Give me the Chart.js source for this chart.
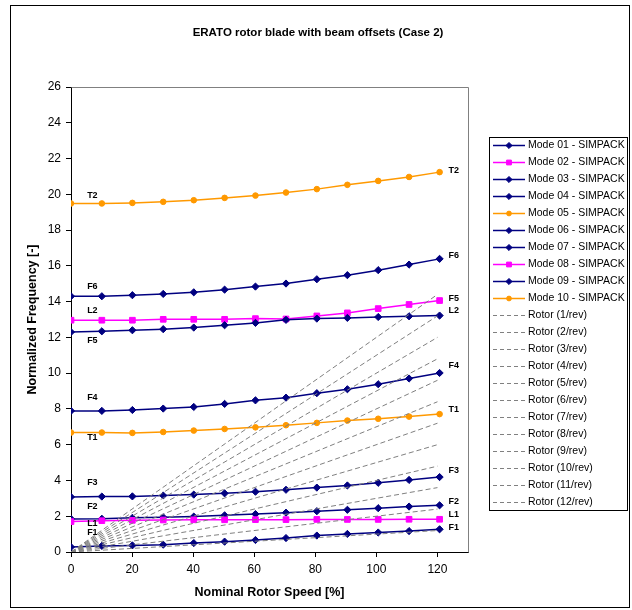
<!DOCTYPE html>
<html>
<head>
<meta charset="utf-8">
<script src="https://cdn.jsdelivr.net/npm/chart.js@4.4.0/dist/chart.umd.min.js"></script>
<style>
  html, body { margin: 0; padding: 0; background: #fff; }
  #wrap { width: 632px; height: 610px; }
</style>
</head>
<body>
<div id="wrap"><canvas id="chart" width="632" height="610"></canvas></div>
<script>
// rotor speed [%] of the SIMPACK points
const speeds = [0, 10.1, 20.1, 30.2, 40.2, 50.3, 60.4, 70.4, 80.5, 90.5, 100.6, 110.7, 120.7];

// normalized frequencies per mode
const mode01 = [0.28, 0.34, 0.37, 0.41, 0.50, 0.58, 0.67, 0.78, 0.92, 1.01, 1.09, 1.17, 1.27];
const mode02 = [1.70, 1.75, 1.77, 1.79, 1.80, 1.80, 1.81, 1.81, 1.82, 1.82, 1.82, 1.83, 1.83];
const mode03 = [1.85, 1.86, 1.91, 1.94, 1.98, 2.05, 2.12, 2.20, 2.28, 2.36, 2.45, 2.54, 2.61];
const mode04 = [3.08, 3.10, 3.11, 3.16, 3.21, 3.28, 3.37, 3.48, 3.60, 3.72, 3.87, 4.03, 4.19];
const mode05 = [6.68, 6.68, 6.66, 6.71, 6.79, 6.88, 6.97, 7.09, 7.22, 7.35, 7.45, 7.57, 7.71];
const mode06 = [7.89, 7.89, 7.94, 8.02, 8.11, 8.28, 8.48, 8.63, 8.88, 9.10, 9.38, 9.70, 10.01];
const mode07 = [12.30, 12.34, 12.40, 12.46, 12.55, 12.68, 12.81, 12.98, 13.05, 13.09, 13.14, 13.18, 13.22];
const mode08 = [12.96, 12.96, 12.96, 13.01, 13.01, 13.01, 13.05, 13.03, 13.20, 13.37, 13.61, 13.84, 14.06];
const mode09 = [14.30, 14.30, 14.36, 14.43, 14.52, 14.67, 14.84, 15.01, 15.25, 15.48, 15.76, 16.07, 16.39];
const mode10 = [19.49, 19.49, 19.52, 19.58, 19.67, 19.80, 19.93, 20.10, 20.29, 20.53, 20.75, 20.97, 21.24];

// n/rev lines: start at 0, end values at 120 %
const rotorStart = [0, 120];
const rotorEnd = [1.2, 2.4, 3.6, 4.8, 6.0, 7.2, 8.4, 9.6, 10.8, 12.0, 13.2, 14.4];

// axis ticks
const xTicks = [0, 20, 40, 60, 80, 100, 120];

// mode labels written next to the curves (data units)
const labelText = ['T2', 'F6', 'L2', 'F5', 'F4', 'T1', 'F3', 'F2', 'L1', 'F1',
                   'T2', 'F6', 'F5', 'L2', 'F4', 'T1', 'F3', 'F2', 'L1', 'F1'];
const labelX = [7, 7, 7, 7, 7, 7, 7, 7, 7, 7,
                125.3, 125.3, 125.3, 125.3, 125.3, 125.3, 125.3, 125.3, 125.3, 125.3];
const labelY = [19.91, 14.83, 13.51, 11.84, 8.61, 6.40, 3.89, 2.55, 1.61, 1.07,
                21.35, 16.60, 14.20, 13.51, 10.40, 7.96, 4.53, 2.83, 2.11, 1.39];

const NAVY = '#000080', PINK = '#FF00FF', ORANGE = '#FF9900';
const FONT = "'Liberation Sans', Arial, sans-serif";

const modes = [mode01, mode02, mode03, mode04, mode05, mode06, mode07, mode08, mode09, mode10];
const modeColor = [NAVY, PINK, NAVY, NAVY, ORANGE, NAVY, NAVY, PINK, NAVY, ORANGE];
const modeMarker = ['rectRot', 'rect', 'rectRot', 'rectRot', 'circle', 'rectRot', 'rectRot', 'rect', 'rectRot', 'circle'];

const datasets = [];
modes.forEach((vals, i) => {
    const mk = modeMarker[i];
    datasets.push({
        label: 'Mode ' + String(i + 1).padStart(2, '0') + ' - SIMPACK',
        data: speeds.map((x, j) => ({ x, y: vals[j] })),
        showLine: true,
        borderColor: modeColor[i],
        backgroundColor: modeColor[i],
        borderWidth: 1.5,
        pointStyle: mk,
        pointRadius: mk === 'rect' ? 4 : (mk === 'circle' ? 2.8 : 3.6),
        pointBorderWidth: 1,
        order: 2
    });
});
rotorEnd.forEach((v, k) => {
    datasets.push({
        label: 'Rotor (' + (k + 1) + '/rev)',
        data: [{ x: rotorStart[0], y: 0 }, { x: rotorStart[1], y: v }],
        showLine: true,
        borderColor: '#808080',
        backgroundColor: '#808080',
        borderWidth: 1,
        borderDash: [5, 3],
        pointRadius: 0,
        order: 1
    });
});

const framePlugin = {
    id: 'frame',
    beforeDraw(chart) {
        const ctx = chart.ctx;
        ctx.save();
        ctx.fillStyle = '#fff';
        ctx.fillRect(0, 0, chart.width, chart.height);
        ctx.strokeStyle = '#000';
        ctx.lineWidth = 1;
        ctx.strokeRect(10.5, 5.5, 619, 602);
        ctx.fillStyle = '#000';
        ctx.font = 'bold 11.5px ' + FONT;
        ctx.textAlign = 'center';
        ctx.textBaseline = 'middle';
        ctx.fillText('ERATO rotor blade with beam offsets (Case 2)', 318, 33);
        ctx.restore();
    },
    beforeDatasetsDraw(chart) {
        const { ctx, chartArea: a } = chart;
        ctx.save();
        ctx.strokeStyle = '#808080';
        ctx.lineWidth = 1;
        ctx.beginPath();
        ctx.moveTo(Math.round(a.left) + 0.5, Math.round(a.top) + 0.5);
        ctx.lineTo(Math.round(a.right) + 0.5, Math.round(a.top) + 0.5);
        ctx.lineTo(Math.round(a.right) + 0.5, Math.round(a.bottom) + 0.5);
        ctx.stroke();
        ctx.restore();
    }
};

const curveLabels = {
    id: 'curveLabels',
    afterDatasetsDraw(chart) {
        const { ctx, scales } = chart;
        ctx.save();
        ctx.fillStyle = '#000';
        ctx.font = 'bold 9px ' + FONT;
        ctx.textAlign = 'center';
        ctx.textBaseline = 'middle';
        labelText.forEach((t, i) => {
            ctx.fillText(t, scales.x.getPixelForValue(labelX[i]), scales.y.getPixelForValue(labelY[i]));
        });
        ctx.restore();
    }
};

const boxLegend = {
    id: 'boxLegend',
    afterDraw(chart) {
        const ctx = chart.ctx;
        const left = 489, top = 137, w = 138, h = 373, row = 17, first = 145;
        ctx.save();
        ctx.strokeStyle = '#000';
        ctx.lineWidth = 1;
        ctx.strokeRect(left + 0.5, top + 0.5, w, h);
        ctx.font = '10.5px ' + FONT;
        ctx.textBaseline = 'middle';
        ctx.textAlign = 'left';
        chart.data.datasets.forEach((ds, i) => {
            const y = Math.round(first + i * row) + 0.5;
            ctx.strokeStyle = ds.borderColor;
            ctx.lineWidth = ds.pointRadius > 0 ? 1.5 : 1;
            ctx.setLineDash(ds.pointRadius > 0 ? [] : [4, 3]);
            ctx.beginPath();
            ctx.moveTo(493, y);
            ctx.lineTo(525, y);
            ctx.stroke();
            ctx.setLineDash([]);
            if (ds.pointRadius > 0) {
                ctx.fillStyle = ds.backgroundColor;
                ctx.lineWidth = 1;
                Chart.helpers.drawPoint(ctx, { pointStyle: ds.pointStyle, radius: ds.pointRadius * 0.85, borderWidth: 1, rotation: 0 }, 509, y);
            }
            ctx.fillStyle = '#000';
            ctx.fillText(ds.label, 528, y);
        });
        ctx.restore();
    }
};

new Chart(document.getElementById('chart'), {
    type: 'scatter',
    data: { datasets },
    options: {
        responsive: false,
        animation: false,
        devicePixelRatio: 1,
        layout: { padding: { left: 12, right: 164, top: 87, bottom: 10 } },
        plugins: { legend: { display: false }, title: { display: false }, tooltip: { enabled: false } },
        scales: {
            x: {
                type: 'linear', min: 0, max: 130,
                ticks: { color: '#000', font: { family: FONT, size: 12 }, padding: 5, maxRotation: 0, autoSkip: false },
                grid: { drawOnChartArea: false, drawTicks: true, tickLength: 5, color: '#000' },
                border: { color: '#000', width: 1 },
                title: { display: true, text: 'Nominal Rotor Speed [%]', color: '#000',
                         font: { family: FONT, size: 12.5, weight: 'bold' }, padding: { top: 0, bottom: 0 } },
                afterBuildTicks: s => { s.ticks = xTicks.map(v => ({ value: v })); },
                afterFit: s => { s.height = 48; }
            },
            y: {
                type: 'linear', min: 0, max: 26,
                ticks: { stepSize: 2, autoSkip: false, color: '#000', font: { family: FONT, size: 12 }, padding: 5 },
                grid: { drawOnChartArea: false, drawTicks: true, tickLength: 5, color: '#000' },
                border: { color: '#000', width: 1 },
                title: { display: true, text: 'Normalized Frequency [-]', color: '#000',
                         font: { family: FONT, size: 12.5, weight: 'bold' }, padding: { top: 13, bottom: 0 } },
                afterFit: s => { s.width = 59; }
            }
        }
    },
    plugins: [framePlugin, curveLabels, boxLegend]
});
</script>
</body>
</html>
